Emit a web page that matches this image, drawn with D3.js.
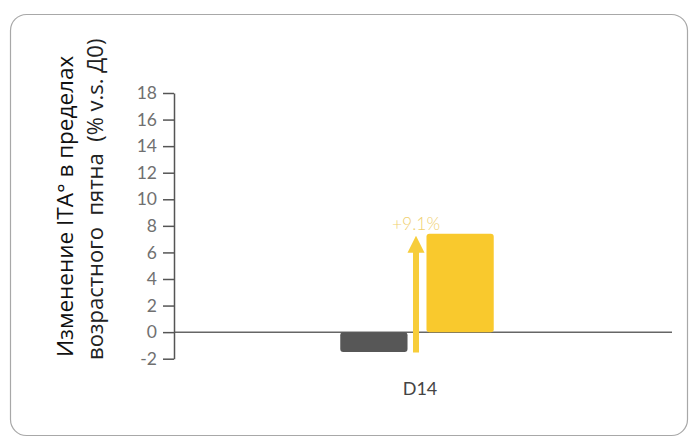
<!DOCTYPE html>
<html><head><meta charset="utf-8">
<script src="https://cdn.jsdelivr.net/npm/d3@7"></script>
<style>
html,body{margin:0;padding:0;background:#fff;}
svg{display:block;}
</style></head>
<body>
<svg id="chart" width="692" height="438"></svg>
<script>
const categories = ["D14"];
const seriesNames = ["control", "product"];
const controlValues = [-1.5];
const productValues = [7.4];
const annotationLabels = ["+9.1%"];
const tickValues = [-2, 0, 2, 4, 6, 8, 10, 12, 14, 16, 18];
const yTitleLines = ["Изменение ITA° в пределах", "возрастного  пятна  (% v.s. Д0)"];

const svg = d3.select("#chart");

// card
svg.append("rect").attr("x", 10.5).attr("y", 14.5).attr("width", 677).attr("height", 421)
  .attr("rx", 16).attr("fill", "#fff").attr("stroke", "#a8a8a8").attr("stroke-width", 1.2);

const y = d3.scaleLinear().domain([-2, 18]).range([358.7, 93]);
const x0 = d3.scaleBand().domain(categories).range([174, 660]).paddingInner(0.52).paddingOuter(0.52);
const x1 = d3.scaleBand().domain(seriesNames).range([0, x0.bandwidth()]).paddingInner(0.22);

// zero line
svg.append("line").attr("x1", 174).attr("x2", 672).attr("y1", y(0)).attr("y2", y(0))
  .attr("stroke", "#666").attr("stroke-width", 1.5);

// y axis
const gy = svg.append("g").attr("transform", "translate(174,0)")
  .call(d3.axisLeft(y).tickValues(tickValues).tickSize(11).tickSizeOuter(0).tickPadding(6)
    .tickFormat(d => d.toString()));
gy.select(".domain").attr("stroke", "#555").attr("stroke-width", 1.5);
gy.selectAll(".tick line").attr("stroke", "#555").attr("stroke-width", 1.5);
gy.selectAll(".tick text").attr("fill", "#707070").attr("font-family", "Lato, sans-serif")
  .attr("font-weight", 400).attr("font-size", 17.5);

const data = categories.map((c, i) => ({cat: c, control: controlValues[i], product: productValues[i], label: annotationLabels[i]}));

const colors = {control: "#575757", product: "#f9c92d"};

data.forEach(d => {
  const gx = x0(d.cat);
  seriesNames.forEach(s => {
    const v = d[s];
    svg.append("rect")
      .attr("x", gx + x1(s)).attr("width", x1.bandwidth())
      .attr("y", y(Math.max(0, v))).attr("height", Math.abs(y(v) - y(0)))
      .attr("rx", 3).attr("fill", colors[s]);
  });
  // arrow
  const ax = gx + x0.bandwidth() / 2 - 1;
  const yb = y(d.control) + 0.5, yt = y(d.product) + 2;
  const sw = 3, hw = 8.5, hh = 17;
  svg.append("path")
    .attr("d", `M${ax - sw},${yb} L${ax - sw},${yt + hh} L${ax - hw},${yt + hh} L${ax},${yt} L${ax + hw},${yt + hh} L${ax + sw},${yt + hh} L${ax + sw},${yb} Z`)
    .attr("fill", "#f7cd3a");
  svg.append("text").attr("x", ax).attr("y", yt - 6).attr("text-anchor", "middle")
    .attr("font-family", "Lato, sans-serif").attr("font-weight", 300).attr("font-size", 17.5)
    .attr("fill", "#f0d070").text(d.label);
  svg.append("text").attr("x", gx + x0.bandwidth() / 2 + 3).attr("y", 395).attr("text-anchor", "middle")
    .attr("font-family", "Lato, sans-serif").attr("font-size", 18).attr("fill", "#444").text(d.cat);
});

// y title
svg.append("text").attr("transform", "translate(73,357) rotate(-90)")
  .attr("text-anchor", "start").attr("font-family", "'Open Sans', sans-serif")
  .attr("font-size", 22.5).attr("fill", "#111").text(yTitleLines[0]);
svg.append("text").attr("transform", "translate(103,360) rotate(-90)")
  .attr("text-anchor", "start").attr("font-family", "'Open Sans', sans-serif")
  .attr("font-size", 22).attr("fill", "#222").style("white-space", "pre").text(yTitleLines[1]);
</script>
</body></html>
